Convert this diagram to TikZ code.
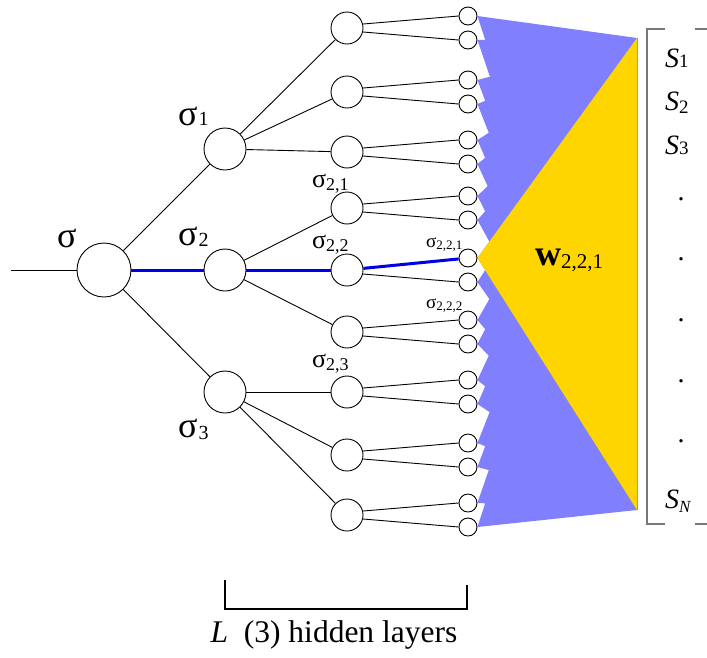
\documentclass[tikz,border=0pt]{standalone}
\usepackage{fontspec}
\setmainfont{Liberation Serif}
\pgfdeclarelayer{bg}
\pgfsetlayers{bg,main}
\newcommand\sg[1]{{\fontsize{#1}{#1}\selectfont σ}}
\newcommand\sbs[3]{\raisebox{#3}{\fontsize{#1}{#1}\selectfont #2}}
\definecolor{fanblue}{RGB}{128,128,255}
\definecolor{wgold}{RGB}{255,213,0}
\definecolor{pathblue}{RGB}{0,0,230}
\definecolor{brgray}{RGB}{120,120,120}
\begin{document}
\begin{tikzpicture}[x=1pt,y=-1pt,
  edge/.style={line width=0.9pt},
  hl/.style={draw=pathblue,line width=3pt},
  neuron/.style={circle,draw,fill=white,line width=0.9pt,inner sep=0pt},
  lbl/.style={anchor=base west,inner sep=0pt},
  dotlbl/.style={anchor=center,inner sep=0pt,font=\fontsize{28}{28}\selectfont}]
\useasboundingbox (0,0) rectangle (707,657);
% neurons
\node[neuron,minimum size=54pt] (root) at (104,270) {};
\foreach \i/\y in {1/149,2/270,3/392}
  \node[neuron,minimum size=42pt] (a\i) at (225,\y) {};
\foreach \i/\y in {1/28,2/92,3/152,4/208,5/270,6/332,7/392,8/455,9/515}{
  \node[neuron,minimum size=32pt] (b\i) at (347,\y) {};
  \node[neuron,minimum size=18pt] (c\i u) at (468,\y-12) {};
  \node[neuron,minimum size=18pt] (c\i d) at (468,\y+12) {};
}
\coordinate (in) at (11,270);
\coordinate (T) at (637,38);
\coordinate (B) at (637,510);
% fans
\begin{pgfonlayer}{bg}
\foreach \i in {1,...,9}{
  \fill[fanblue] (c\i u.east) -- (T) -- (B) -- cycle;
  \fill[fanblue] (c\i d.east) -- (T) -- (B) -- cycle;
}
\fill[wgold] (c5u.east) -- (T) -- (B) -- cycle;
\end{pgfonlayer}
% connectors
\draw[edge] (in) -- (root);
\draw[edge] (root) -- (a1);
\draw[edge] (root) -- (a3);
\draw[hl] (root) -- (a2);
\foreach \a/\x/\y/\z in {1/1/2/3,2/4/5/6,3/7/8/9}{
  \draw[edge] (a\a) -- (b\x);
  \draw[edge] (a\a) -- (b\z);
}
\draw[edge] (a1) -- (b2);
\draw[edge] (a3) -- (b8);
\draw[hl] (a2) -- (b5);
\foreach \i in {1,...,9}{
  \draw[edge] (b\i.-14) -- (c\i d.west);
}
\foreach \i in {1,2,3,4,6,7,8,9}{
  \draw[edge] (b\i.14) -- (c\i u.west);
}
\draw[hl] (b5) -- (c5u);
% labels
\node[lbl] (l0) at (57,247) {\sg{36}};
\node[lbl] (l1) at (178,125) {\sg{36}\kern1pt\sbs{20}{1}{0pt}};
\node[lbl] (l2) at (178,245) {\sg{36}\kern1pt\sbs{20}{2}{-1pt}};
\node[lbl] (l3) at (178,437) {\sg{36}\kern1pt\sbs{20}{3}{-2pt}};
\node[lbl] (l21) at (312,187) {\sg{26}\sbs{18}{2,1}{-3pt}};
\node[lbl] (l22) at (312,248) {\sg{26}\sbs{18}{2,2}{-3pt}};
\node[lbl] (l23) at (312,367) {\sg{26}\sbs{18}{2,3}{-3pt}};
\node[lbl] (l221) at (426,247) {\sg{19}\sbs{13}{2,2,1}{-2pt}};
\node[lbl] (l222) at (426,308) {\sg{19}\sbs{13}{2,2,2}{-2pt}};
\node[lbl] (w) at (535,265) {{\fontsize{36}{36}\selectfont\bfseries w}\sbs{21}{2,2,1}{-3pt}};
% output vector
\node[lbl] (s1) at (665,67) {{\fontsize{28}{28}\selectfont\itshape S}\sbs{19}{1}{0pt}};
\node[lbl] (s2) at (665,110) {{\fontsize{28}{28}\selectfont\itshape S}\sbs{19}{2}{-3pt}};
\node[lbl] (s3) at (665,154) {{\fontsize{28}{28}\selectfont\itshape S}\sbs{19}{3}{0pt}};
\foreach \y [count=\k] in {199,259,320,381,441}
  \node[dotlbl] (d\k) at (681,\y) {.};
\node[lbl] (sn) at (665,508) {{\fontsize{28}{28}\selectfont\itshape S}\sbs{17}{\itshape N}{-4pt}};
\draw[brgray,line width=1.5pt] (665,29) -- (647,29) -- (647,524) -- (665,524);
\draw[brgray,line width=1.5pt] (695,29) -- (707,29);
\draw[brgray,line width=1.5pt] (695,524) -- (707,524);
% hidden layers bracket
\draw[line width=1.1pt] (225,580) -- (225,609) -- (467,609) -- (467,585);
\node[anchor=base,inner sep=0pt] (cap) at (334,642) {\fontsize{31.5}{32}\selectfont\textit{L}\ \ (3) hidden layers};
\end{tikzpicture}
\end{document}
